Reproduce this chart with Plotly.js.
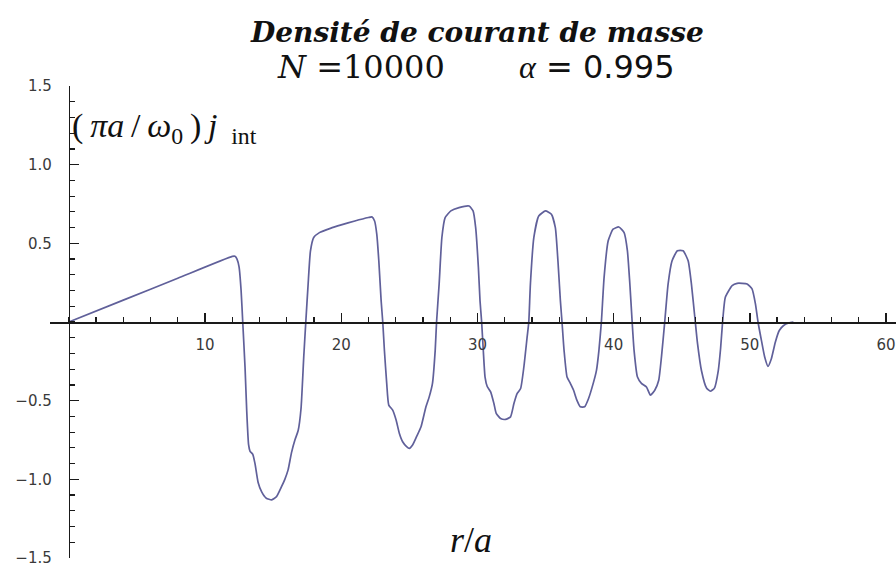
<!DOCTYPE html>
<html>
<head>
<meta charset="utf-8">
<script src="https://cdn.plot.ly/plotly-3.0.1.min.js"></script>
<style>
  html, body { margin: 0; padding: 0; background: #ffffff; }
  #chart { width: 896px; height: 566px; }
</style>
</head>
<body>
<div id="chart"></div>
<script>
// Radial position r/a
const rOverA = [
  0, 4, 8, 12.0, 12.2, 12.35, 12.5, 12.65, 12.77, 12.94, 13.06, 13.2, 13.3, 13.5, 13.67, 13.9,
  14.16, 14.5, 14.9, 15.25, 15.6, 15.86, 16.1, 16.35, 16.6, 16.84, 17.05, 17.25, 17.4, 17.57,
  17.74, 17.98, 18.4, 19.2, 20.0, 21.0, 22.0, 22.25, 22.45, 22.61, 22.76, 22.93, 23.05, 23.17,
  23.34, 23.49, 23.78, 24.03, 24.27, 24.51, 24.8, 25.0, 25.24, 25.53, 25.86, 26.22, 26.46, 26.7,
  26.9, 27.0, 27.19, 27.39, 27.63, 28.05, 28.65, 29.39, 29.68, 29.87, 30.07, 30.19, 30.31, 30.43,
  30.56, 30.72, 30.97, 31.21, 31.38, 31.7, 32.07, 32.43, 32.68, 32.92, 33.17, 33.41, 33.65, 33.77,
  33.89, 34.14, 34.5, 35.0, 35.43, 35.72, 35.91, 36.09, 36.21, 36.36, 36.58, 36.82, 37.06, 37.3,
  37.55, 37.87, 38.16, 38.5, 38.74, 38.92, 39.1, 39.3, 39.6, 39.96, 40.38, 40.77, 41.01, 41.19,
  41.36, 41.5, 41.75, 42.04, 42.41, 42.7, 43.02, 43.31, 43.51, 43.75, 44.0, 44.29, 44.68, 45.1,
  45.47, 45.71, 45.96, 46.16, 46.45, 46.82, 47.1, 47.4, 47.68, 47.85, 48.0, 48.2, 48.7, 49.07,
  49.43, 49.8, 50.16, 50.41, 50.6, 50.85, 51.09, 51.33, 51.58, 51.87, 52.16, 52.48, 52.85, 53.2
];

// Scaled mass current density (pi a / omega0) j_int
const jInt = [
  0, 0.139, 0.278, 0.417, 0.418, 0.40, 0.35, 0.20, 0.0, -0.29, -0.56, -0.78, -0.82, -0.84, -0.90, -1.02,
  -1.08, -1.12, -1.13, -1.11, -1.05, -1.00, -0.94, -0.83, -0.75, -0.69, -0.55, -0.22, 0.0, 0.24,
  0.45, 0.537, 0.568, 0.595, 0.617, 0.642, 0.664, 0.668, 0.642, 0.558, 0.389, 0.136, 0, -0.18,
  -0.39, -0.528, -0.56, -0.623, -0.708, -0.761, -0.792, -0.803, -0.782, -0.729, -0.666, -0.539, -0.476, -0.39,
  -0.18, 0, 0.242, 0.537, 0.663, 0.706, 0.727, 0.737, 0.706, 0.60, 0.347, 0.136, 0, -0.18,
  -0.35, -0.41, -0.444, -0.518, -0.581, -0.613, -0.619, -0.603, -0.518, -0.454, -0.423, -0.286, -0.095, 0,
  0.242, 0.537, 0.674, 0.706, 0.685, 0.60, 0.389, 0.136, 0, -0.18, -0.35, -0.39, -0.434, -0.497,
  -0.539, -0.539, -0.486, -0.39, -0.307, -0.18, 0, 0.284, 0.516, 0.59, 0.604, 0.568, 0.453, 0.242,
  0, -0.18, -0.35, -0.39, -0.413, -0.465, -0.434, -0.37, -0.223, 0, 0.242, 0.389, 0.453, 0.453,
  0.389, 0.242, 0.03, -0.138, -0.31, -0.42, -0.44, -0.42, -0.31, -0.17, 0, 0.157, 0.231, 0.246,
  0.246, 0.242, 0.21, 0.115, 0, -0.117, -0.223, -0.282, -0.233, -0.128, -0.054, -0.022, -0.006, 0
];

// Labelled tick positions (the origin is left unlabelled)
const xTickVals = [10, 20, 30, 40, 50, 60];
const xTickText = ['10', '20', '30', '40', '50', '60'];
const yTickVals = [-1.5, -1.0, -0.5, 0.5, 1.0, 1.5];
const yTickText = ['\u22121.5', '\u22121.0', '\u22120.5', '0.5', '1.0', '1.5'];

const xRange = [-1.38, 60.73];
const yRange = [-1.5, 1.5];

const axisColor = '#1a1a1a';
const tickFont = { family: 'DejaVu Sans', size: 15, color: '#3a3a3a' };
const serif = 'Liberation Serif, Times New Roman, serif';
const thin = '\u2009';

const trace = {
  x: rOverA,
  y: jInt,
  type: 'scatter',
  mode: 'lines',
  line: { color: '#60609a', width: 1.7, shape: 'spline', smoothing: 0.5 },
  hoverinfo: 'skip'
};

const layout = {
  width: 896,
  height: 566,
  margin: { l: 50, r: 0, t: 86, b: 8, pad: 0 },
  paper_bgcolor: '#ffffff',
  plot_bgcolor: '#ffffff',
  showlegend: false,
  xaxis: {
    range: xRange,
    anchor: 'free',
    position: 0.5,
    side: 'bottom',
    showgrid: false,
    zeroline: false,
    showline: true,
    linecolor: axisColor,
    linewidth: 1.6,
    ticks: 'inside',
    ticklen: 9,
    tickwidth: 1.4,
    tickcolor: axisColor,
    tickmode: 'array',
    tickvals: xTickVals,
    ticktext: xTickText,
    tickfont: tickFont,
    ticklabelstandoff: 8,
    ticklabeloverflow: 'allow',
    minor: { dtick: 2, tick0: 0, ticks: 'inside', ticklen: 5, tickwidth: 1.2, tickcolor: axisColor, showgrid: false }
  },
  yaxis: {
    range: yRange,
    anchor: 'free',
    position: (0 - xRange[0]) / (xRange[1] - xRange[0]),
    side: 'left',
    showgrid: false,
    zeroline: false,
    showline: true,
    linecolor: axisColor,
    linewidth: 1.6,
    ticks: 'inside',
    ticklen: 9,
    tickwidth: 1.4,
    tickcolor: axisColor,
    tickmode: 'array',
    tickvals: yTickVals,
    ticktext: yTickText,
    tickfont: tickFont,
    ticklabelstandoff: 14,
    ticklabeloverflow: 'allow',
    minor: { dtick: 0.1, tick0: 0, ticks: 'inside', ticklen: 5, tickwidth: 1.2, tickcolor: axisColor, showgrid: false }
  },
  annotations: [
    {
      text: '<b><i>Densité de courant de masse</i></b>',
      xref: 'paper', yref: 'paper', x: 0.5047, y: 1.1123,
      xanchor: 'center', yanchor: 'middle', showarrow: false,
      font: { family: 'DejaVu Serif', size: 28, color: '#111111' }
    },
    {
      text: '<i>N</i> =10000',
      xref: 'paper', yref: 'paper', x: 0.266, y: 1.0403,
      xanchor: 'left', yanchor: 'middle', showarrow: false,
      font: { family: 'DejaVu Serif', size: 32, color: '#111111' }
    },
    {
      text: '<span style="font-family:Liberation Serif"><i>α</i></span> = 0.995',
      xref: 'paper', yref: 'paper', x: 0.552, y: 1.0403,
      xanchor: 'left', yanchor: 'middle', showarrow: false,
      font: { family: 'DejaVu Sans', size: 32, color: '#111111' }
    },
    {
      text: '(' + thin + '<i>πa</i>' + thin + '/' + thin + '<i>ω</i><sub>0</sub>' + thin + ')' + thin + '<i>j</i>' + thin + thin + '<sub>int</sub>',
      xref: 'paper', yref: 'paper', x: 0.0236, y: 0.911,
      xanchor: 'left', yanchor: 'middle', showarrow: false,
      font: { family: serif, size: 34, color: '#111111' }
    },
    {
      text: '<i>r</i>/<i>a</i>',
      xref: 'paper', yref: 'paper', x: 0.4976, y: 0.0381,
      xanchor: 'center', yanchor: 'middle', showarrow: false,
      font: { family: serif, size: 36, color: '#111111' }
    }
  ]
};

Plotly.newPlot('chart', [trace], layout, { displayModeBar: false, staticPlot: true });
</script>
</body>
</html>
